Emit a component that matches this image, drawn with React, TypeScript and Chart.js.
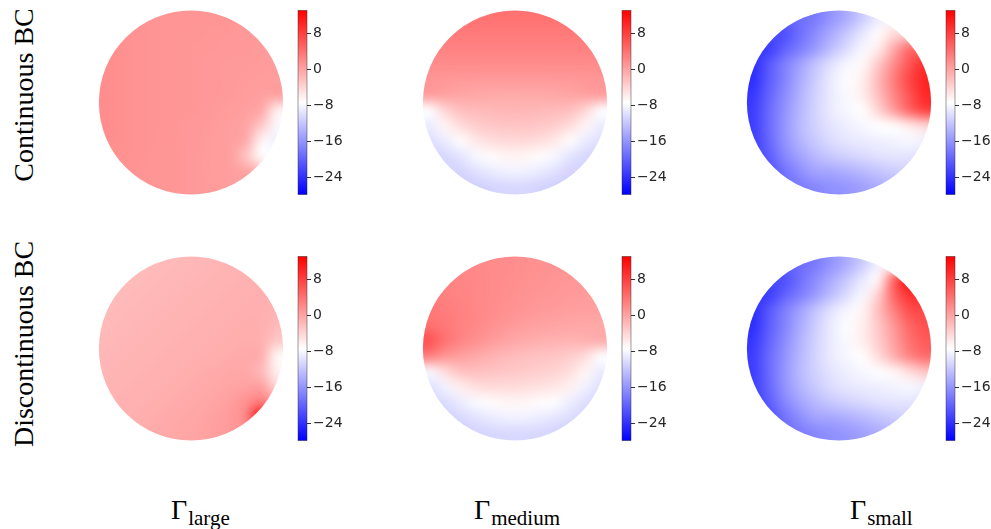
import React, { useEffect, useRef } from "react";
import { Chart, registerables } from "chart.js";
Chart.register(...registerables);

// ---- colour scale (shared by all panels) ----
const CB_MIN = -27.9;
const CB_MAX = 13.2;
const CB_TICKS = [8, 0, -8, -16, -24];

// ---- labels ----
const ROW_LABELS = ["Continuous BC", "Discontinuous BC"];
const COL_SUBSCRIPTS = ["large", "medium", "small"];

// ---- field samples, 12 x 12 over the unit disk, rows from top (y=+1) to bottom (y=-1) ----
const CONT_LARGE = [
  [1.5, 1.5, 1.4, 1.3, 1.2, 1.2, 1.2, 1.1, 1.1, 1.0, 1.0, 1.0],
  [1.6, 1.5, 1.4, 1.3, 1.2, 1.1, 1.1, 1.0, 1.0, 0.9, 0.9, 0.9],
  [1.7, 1.6, 1.4, 1.3, 1.2, 1.1, 1.0, 1.0, 0.9, 0.9, 0.8, 0.8],
  [1.8, 1.6, 1.4, 1.3, 1.2, 1.1, 1.0, 0.9, 0.8, 0.8, 0.7, 0.7],
  [1.8, 1.6, 1.4, 1.3, 1.2, 1.1, 1.0, 0.9, 0.8, 0.7, 0.6, 0.5],
  [1.8, 1.6, 1.4, 1.3, 1.2, 1.1, 1.0, 0.9, 0.8, 0.6, 0.4, 0.2],
  [1.8, 1.6, 1.4, 1.3, 1.2, 1.1, 1.0, 0.8, 0.6, 0.4, -0.3, -6.0],
  [1.8, 1.6, 1.4, 1.3, 1.2, 1.0, 0.9, 0.7, 0.5, 0.0, -3.0, -7.8],
  [1.7, 1.6, 1.4, 1.3, 1.1, 1.0, 0.9, 0.6, 0.4, -0.5, -6.5, -8.5],
  [1.7, 1.5, 1.4, 1.2, 1.1, 1.0, 0.8, 0.6, 0.4, -2.5, -7.0, -8.0],
  [1.6, 1.5, 1.3, 1.2, 1.1, 1.0, 0.8, 0.6, 0.5, 0.1, -1.5, -4.0],
  [1.5, 1.4, 1.3, 1.2, 1.1, 1.0, 0.8, 0.7, 0.5, 0.3, 0.0, 0.0],
];

const CONT_MEDIUM = [
  [4.0, 4.0, 4.0, 4.0, 4.0, 4.0, 4.0, 4.0, 4.0, 4.0, 4.0, 4.0],
  [3.4, 3.4, 3.4, 3.4, 3.4, 3.4, 3.4, 3.4, 3.4, 3.4, 3.4, 3.4],
  [2.7, 2.7, 2.7, 2.7, 2.7, 2.7, 2.7, 2.7, 2.7, 2.7, 2.7, 2.7],
  [1.9, 1.9, 1.9, 1.9, 1.9, 1.9, 1.9, 1.9, 1.9, 1.9, 1.9, 1.9],
  [1.1, 1.0, 0.9, 0.9, 0.8, 0.8, 0.8, 0.8, 0.9, 0.9, 1.0, 1.1],
  [0.5, 0.2, -0.1, -0.3, -0.4, -0.5, -0.5, -0.4, -0.3, -0.1, 0.2, 0.5],
  [-7.5, -4.0, -2.2, -1.8, -1.6, -1.5, -1.5, -1.6, -1.8, -2.2, -4.0, -7.5],
  [-9.0, -6.5, -4.5, -3.3, -2.8, -2.6, -2.6, -2.8, -3.3, -4.5, -6.5, -9.0],
  [-10.0, -9.0, -7.0, -5.5, -4.6, -4.3, -4.3, -4.6, -5.5, -7.0, -9.0, -10.0],
  [-11.0, -10.5, -9.5, -8.0, -7.0, -6.5, -6.5, -7.0, -8.0, -9.5, -10.5, -11.0],
  [-11.5, -11.0, -10.8, -9.8, -9.0, -8.5, -8.5, -9.0, -9.8, -10.8, -11.0, -11.5],
  [-12.0, -11.8, -11.5, -11.2, -10.8, -10.5, -10.5, -10.8, -11.2, -11.5, -11.8, -12.0],
];

const CONT_SMALL = [
  [-22.0, -21.0, -20.0, -19.0, -18.0, -16.0, -14.0, -11.5, -9.0, -8.0, -7.0, -6.0],
  [-23.0, -22.0, -21.5, -19.0, -16.6, -14.2, -11.8, -9.4, -7.0, -4.5, -4.0, -2.0],
  [-23.5, -23.0, -20.2, -17.8, -15.4, -12.6, -10.2, -8.1, -5.8, -0.5, 4.5, 5.0],
  [-24.3, -21.0, -17.8, -15.0, -12.2, -9.8, -8.1, -6.8, -3.0, 1.9, 6.4, 9.6],
  [-24.3, -20.6, -17.4, -14.2, -11.4, -9.0, -7.6, -6.0, -1.7, 3.1, 7.6, 10.4],
  [-23.5, -20.0, -16.8, -13.6, -11.0, -9.0, -7.8, -6.0, -2.2, 2.4, 6.6, 10.0],
  [-23.0, -19.5, -16.2, -13.2, -10.8, -9.0, -8.0, -7.2, -4.0, 0.5, 5.0, 8.0],
  [-23.0, -19.5, -16.0, -13.0, -11.0, -9.5, -8.6, -8.0, -7.4, -7.0, -5.5, -4.0],
  [-23.0, -19.8, -16.2, -13.5, -11.6, -10.2, -9.4, -9.0, -8.6, -8.3, -8.0, -8.5],
  [-23.0, -20.5, -17.2, -14.8, -13.0, -11.8, -11.0, -10.4, -9.8, -9.5, -9.5, -10.0],
  [-22.0, -21.5, -18.8, -16.5, -14.8, -14.5, -13.8, -13.0, -12.2, -11.5, -11.0, -11.0],
  [-21.0, -20.0, -19.0, -18.0, -17.0, -16.3, -15.8, -15.0, -14.0, -13.0, -12.0, -12.0],
];

const DISC_LARGE = [
  [-1.9, -1.9, -1.8, -1.8, -1.7, -1.6, -1.5, -1.4, -1.3, -1.2, -1.1, -1.0],
  [-1.9, -1.8, -1.8, -1.7, -1.6, -1.5, -1.4, -1.3, -1.2, -1.1, -1.0, -0.9],
  [-1.8, -1.8, -1.7, -1.6, -1.5, -1.4, -1.3, -1.2, -1.1, -1.0, -0.9, -0.9],
  [-1.8, -1.7, -1.6, -1.5, -1.4, -1.3, -1.2, -1.1, -1.0, -0.9, -0.9, -1.2],
  [-1.7, -1.6, -1.5, -1.4, -1.3, -1.2, -1.1, -1.0, -0.9, -0.8, -0.9, -1.8],
  [-1.6, -1.5, -1.4, -1.3, -1.2, -1.1, -1.0, -0.9, -0.8, -0.7, -1.0, -3.0],
  [-1.5, -1.4, -1.3, -1.2, -1.1, -1.0, -0.9, -0.8, -0.6, -0.5, -0.8, -6.7],
  [-1.4, -1.3, -1.2, -1.1, -1.0, -0.9, -0.7, -0.5, -0.3, -0.3, -1.7, -6.2],
  [-1.3, -1.2, -1.1, -1.0, -0.9, -0.7, -0.5, -0.3, 0.0, 0.2, 0.3, -4.0],
  [-1.2, -1.1, -1.0, -0.9, -0.7, -0.5, -0.3, 0.0, 0.5, 1.6, 3.5, 1.0],
  [-1.1, -1.0, -0.9, -0.7, -0.5, -0.3, -0.1, 0.3, 0.8, 2.4, 13.0, 2.0],
  [-1.0, -0.9, -0.8, -0.6, -0.4, -0.2, 0.0, 0.4, 0.8, 1.5, 2.0, 2.0],
];

const DISC_MEDIUM = [
  [2.6, 2.5, 2.4, 2.2, 2.0, 1.9, 1.7, 1.5, 1.4, 1.3, 1.2, 1.2],
  [2.8, 2.7, 2.5, 2.3, 2.0, 1.8, 1.6, 1.4, 1.2, 1.1, 1.0, 1.0],
  [3.2, 2.9, 2.6, 2.3, 2.0, 1.7, 1.4, 1.2, 1.0, 0.8, 0.7, 0.7],
  [3.6, 3.2, 2.8, 2.3, 1.9, 1.5, 1.2, 0.9, 0.7, 0.5, 0.4, 0.3],
  [4.2, 3.5, 2.8, 2.2, 1.6, 1.0, 0.5, 0.2, 0.0, -0.2, -0.3, -0.3],
  [6.5, 4.0, 2.6, 1.6, 0.7, 0.0, -0.5, -0.9, -1.1, -1.2, -1.0, -0.8],
  [3.0, 1.2, 0.4, -0.4, -1.1, -1.7, -2.1, -2.4, -2.7, -3.2, -4.5, -7.5],
  [-8.0, -4.5, -2.4, -2.2, -2.5, -2.8, -3.1, -3.4, -3.8, -4.7, -6.5, -9.0],
  [-10.0, -8.5, -6.0, -4.8, -4.4, -4.4, -4.6, -4.9, -5.3, -6.2, -8.5, -10.0],
  [-11.0, -10.2, -9.0, -7.8, -7.0, -6.6, -6.6, -7.0, -7.5, -8.7, -10.0, -11.0],
  [-11.5, -11.0, -10.5, -9.6, -9.0, -8.5, -8.5, -8.8, -9.4, -10.2, -10.8, -11.5],
  [-12.0, -11.5, -11.2, -10.9, -10.6, -10.4, -10.4, -10.5, -10.8, -11.2, -11.5, -12.0],
];

const DISC_SMALL = [
  [-22.0, -21.0, -20.0, -19.0, -18.0, -16.0, -14.0, -11.5, -8.5, -7.0, -4.0, 0.0],
  [-23.0, -22.0, -21.5, -19.0, -16.6, -14.2, -11.8, -9.2, -6.5, 5.0, 12.0, 10.0],
  [-23.5, -23.0, -20.2, -17.8, -15.4, -12.6, -10.2, -8.1, -3.5, 5.1, 9.2, 10.0],
  [-24.3, -21.0, -17.8, -15.0, -12.2, -9.8, -8.1, -6.5, -2.2, 3.0, 7.0, 7.5],
  [-24.3, -20.6, -17.4, -14.2, -11.4, -9.0, -7.6, -6.0, -2.9, 1.1, 5.1, 6.8],
  [-23.5, -20.0, -16.8, -13.6, -11.0, -9.0, -7.8, -6.0, -3.3, 0.3, 4.0, 6.0],
  [-23.0, -19.5, -16.2, -13.2, -10.8, -9.0, -8.0, -7.2, -4.5, -1.0, 2.5, 4.5],
  [-23.0, -19.5, -16.0, -13.0, -11.0, -9.5, -8.6, -8.0, -7.5, -6.5, -4.5, -2.5],
  [-23.0, -19.8, -16.2, -13.5, -11.6, -10.2, -9.4, -9.0, -8.6, -8.3, -8.0, -8.5],
  [-23.0, -20.5, -17.2, -14.8, -13.0, -11.8, -11.0, -10.4, -9.8, -9.5, -9.5, -10.0],
  [-22.0, -21.5, -18.8, -16.5, -14.8, -14.5, -13.8, -13.0, -12.2, -11.5, -11.0, -11.0],
  [-21.0, -20.0, -19.0, -18.0, -17.0, -16.3, -15.8, -15.0, -14.0, -13.0, -12.0, -12.0],
];

const GRIDS = [
  [CONT_LARGE, CONT_MEDIUM, CONT_SMALL],
  [DISC_LARGE, DISC_MEDIUM, DISC_SMALL],
];

// ---- layout ----
const DISK_PX = 188;
const GAP_PX = 13;
const BAR_PX = 9;
const AXIS_PX = 46;
const PAD_L = 7;
const PAD_T = 8;
const PAD_B = 9;
const PLOT_W = DISK_PX + GAP_PX + BAR_PX;
const CANVAS_W = PAD_L + PLOT_W + AXIS_PX;
const CANVAS_H = PAD_T + DISK_PX + PAD_B;
const COL_LEFTS = [90, 414, 738];
const ROW_TOPS = [0, 246];
const SERIF = '"Liberation Serif", "Times New Roman", serif';

function bwr(v: number): [number, number, number] {
  let t = (v - CB_MIN) / (CB_MAX - CB_MIN);
  t = Math.max(0, Math.min(1, t));
  if (t < 0.5) {
    const c = Math.round(510 * t);
    return [c, c, 255];
  }
  const c = Math.round(510 * (1 - t));
  return [255, c, c];
}

function Panel({ grid, left, top }: { grid: number[][]; left: number; top: number }) {
  const ref = useRef<HTMLCanvasElement | null>(null);
  useEffect(() => {
    const canvas = ref.current;
    if (!canvas) return;
    const plugin = {
      id: "diskHeat",
      afterDraw(chart: any) {
        const { ctx, scales } = chart;
        const xs = scales.x;
        const ys = scales.y;
        const cb = scales.cb;
        const n = grid.length;
        const m = grid[0].length;
        const off = document.createElement("canvas");
        off.width = m;
        off.height = n;
        const octx = off.getContext("2d")!;
        const img = octx.createImageData(m, n);
        for (let r = 0; r < n; r++) {
          for (let c = 0; c < m; c++) {
            const [R, G, B] = bwr(grid[r][c]);
            const k = (r * m + c) * 4;
            img.data[k] = R;
            img.data[k + 1] = G;
            img.data[k + 2] = B;
            img.data[k + 3] = 255;
          }
        }
        octx.putImageData(img, 0, 0);
        const x0 = xs.getPixelForValue(-1);
        const x1 = xs.getPixelForValue(1);
        const y0 = ys.getPixelForValue(1);
        const y1 = ys.getPixelForValue(-1);
        const cx = (x0 + x1) / 2;
        const cy = (y0 + y1) / 2;
        const rad = (y1 - y0) / 2;
        ctx.save();
        ctx.beginPath();
        ctx.arc(cx, cy, rad, 0, Math.PI * 2);
        ctx.clip();
        ctx.imageSmoothingEnabled = true;
        ctx.imageSmoothingQuality = "high";
        ctx.drawImage(off, x0, y0, x1 - x0, y1 - y0);
        ctx.restore();

        const bt = cb.getPixelForValue(CB_MAX);
        const bb = cb.getPixelForValue(CB_MIN);
        const br = chart.chartArea.right;
        const bl = br - BAR_PX;
        const g = ctx.createLinearGradient(0, bt, 0, bb);
        g.addColorStop(0, "rgb(255,0,0)");
        g.addColorStop(0.5, "rgb(255,255,255)");
        g.addColorStop(1, "rgb(0,0,255)");
        ctx.save();
        ctx.fillStyle = g;
        ctx.fillRect(bl, bt, BAR_PX, bb - bt);
        ctx.strokeStyle = "rgba(40,40,40,0.55)";
        ctx.lineWidth = 0.8;
        ctx.strokeRect(bl, bt, BAR_PX, bb - bt);
        ctx.restore();
      },
    };
    const chart = new Chart(canvas, {
      type: "scatter",
      data: { datasets: [] },
      options: {
        responsive: false,
        animation: false,
        devicePixelRatio: 1,
        layout: { padding: { left: PAD_L, top: PAD_T, bottom: PAD_B, right: 0 } },
        plugins: { legend: { display: false }, tooltip: { enabled: false } },
        scales: {
          x: { type: "linear", display: false, min: -1, max: -1 + (2 * PLOT_W) / DISK_PX },
          y: { type: "linear", display: false, min: -1, max: 1 },
          cb: {
            type: "linear",
            axis: "y",
            position: "right",
            min: CB_MIN,
            max: CB_MAX,
            afterBuildTicks: (s: any) => {
              s.ticks = CB_TICKS.map((v) => ({ value: v }));
            },
            afterFit: (s: any) => {
              s.width = AXIS_PX;
            },
            border: { display: false },
            grid: { drawOnChartArea: false, drawTicks: true, tickLength: 4, color: "#333", lineWidth: 1 },
            ticks: {
              padding: 2,
              color: "#262626",
              font: { family: "'DejaVu Sans'", size: 14 },
              callback: (v: any) => (Number(v) < 0 ? "\u2212" + Math.abs(Number(v)) : String(v)),
            },
          },
        },
      } as any,
      plugins: [plugin],
    });
    return () => chart.destroy();
  }, [grid]);
  return (
    <canvas
      ref={ref}
      width={CANVAS_W}
      height={CANVAS_H}
      style={{ position: "absolute", left, top, width: CANVAS_W, height: CANVAS_H, display: "block" }}
    />
  );
}

const ROW_LABEL_CENTERS = [95, 344];
const COL_LABEL_LEFTS = [171, 474, 850];

export default function App() {
  return (
    <div style={{ position: "absolute", left: 0, top: 0, width: 991, height: 529, background: "#fff", overflow: "hidden" }}>
      {ROW_LABELS.map((label, i) => (
        <div
          key={label}
          style={{
            position: "absolute",
            left: 23.6 - 150,
            top: ROW_LABEL_CENTERS[i] - 14,
            width: 300,
            height: 28,
            lineHeight: "28px",
            fontSize: 28,
            fontFamily: SERIF,
            textAlign: "center",
            whiteSpace: "nowrap",
            color: "#000",
            transform: "rotate(-90deg)",
          }}
        >
          {label}
        </div>
      ))}
      {COL_SUBSCRIPTS.map((sub, i) => (
        <div
          key={sub}
          style={{
            position: "absolute",
            left: COL_LABEL_LEFTS[i],
            top: 495.5,
            height: 28,
            lineHeight: "28px",
            fontFamily: SERIF,
            whiteSpace: "nowrap",
            color: "#000",
          }}
        >
          <span style={{ fontSize: 28, fontFamily: SERIF }}>Γ</span>
          <span style={{ fontSize: 21, fontFamily: SERIF, position: "relative", top: 6, marginLeft: 1 }}>{sub}</span>
        </div>
      ))}
      {GRIDS.map((row, r) =>
        row.map((grid, c) => <Panel key={r + "-" + c} grid={grid} left={COL_LEFTS[c]} top={ROW_TOPS[r]} />)
      )}
    </div>
  );
}
